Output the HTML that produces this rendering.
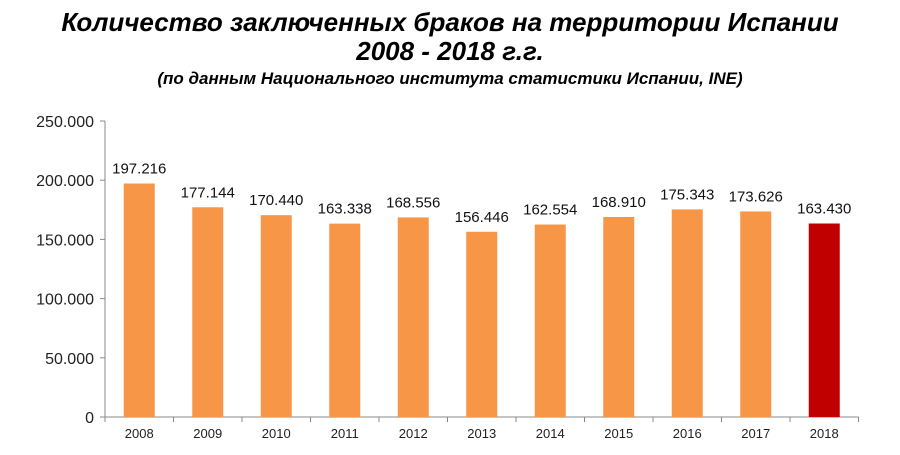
<!DOCTYPE html>
<html><head><meta charset="utf-8"><style>
body{margin:0;background:#fff;width:900px;height:450px;overflow:hidden;font-family:"Liberation Sans",sans-serif}
</style></head><body>
<svg width="900" height="450">
<text x="450" y="31" text-anchor="middle" font-size="26" font-weight="bold" font-style="italic">Количество заключенных браков на территории Испании</text>
<text x="450" y="60" text-anchor="middle" font-size="26" font-weight="bold" font-style="italic">2008 - 2018 г.г.</text>
<text x="450" y="84" text-anchor="middle" font-size="17" font-weight="bold" font-style="italic">(по данным Национального института статистики Испании, INE)</text>
<g id="plot"></g>
</svg>
<script>
const categories=["2008","2009","2010","2011","2012","2013","2014","2015","2016","2017","2018"];
const values=[197216,177144,170440,163338,168556,156446,162554,168910,175343,173626,163430];
const valueLabels=["197.216","177.144","170.440","163.338","168.556","156.446","162.554","168.910","175.343","173.626","163.430"];
const yTicks=[0,50000,100000,150000,200000,250000];
const yTickLabels=["0","50.000","100.000","150.000","200.000","250.000"];
const NS="http://www.w3.org/2000/svg";
const g=document.getElementById("plot");
const x0=105,step=68.5,y0=417,yTop=121,yMax=250000,bw=31;
const y=v=>y0-(v/yMax)*(y0-yTop);
const xc=i=>x0+step*(i+0.5);
function mk(t,a){const e=document.createElementNS(NS,t);for(const k in a)e.setAttribute(k,a[k]);g.appendChild(e);return e;}
let ax=mk("line",{x1:x0,y1:yTop,x2:x0,y2:y0,stroke:"#888","stroke-width":1});


let bx=mk("line",{x1:x0,y1:y0,x2:x0+step*categories.length,y2:y0,stroke:"#888","stroke-width":1});


yTicks.forEach((t,i)=>{
  mk("line",{x1:x0-5,y1:y(t),x2:x0,y2:y(t),stroke:"#888"});
  const l=mk("text",{x:x0-11,y:y(t)+6,"text-anchor":"end","font-size":16,fill:"#222"});
  l.textContent=yTickLabels[i];
  
  
});
for(let i=0;i<=categories.length;i++)mk("line",{x1:x0+step*i,y1:y0,x2:x0+step*i,y2:y0+5,stroke:"#888"});
categories.forEach((c,i)=>{
  const b=mk("rect",{x:xc(i)-bw/2,y:y(values[i]),width:bw,height:y0-y(values[i]),fill:i===categories.length-1?"#c00000":"#f79646"});
  
  
  const v=mk("text",{x:xc(i),y:y(values[i])-10,"text-anchor":"middle","font-size":15,fill:"#111"});
  v.textContent=valueLabels[i];
  
  
  const t=mk("text",{x:xc(i),y:y0+21,"text-anchor":"middle","font-size":13,fill:"#222"});
  t.textContent=c;
  
  
});
</script>
</body></html>
